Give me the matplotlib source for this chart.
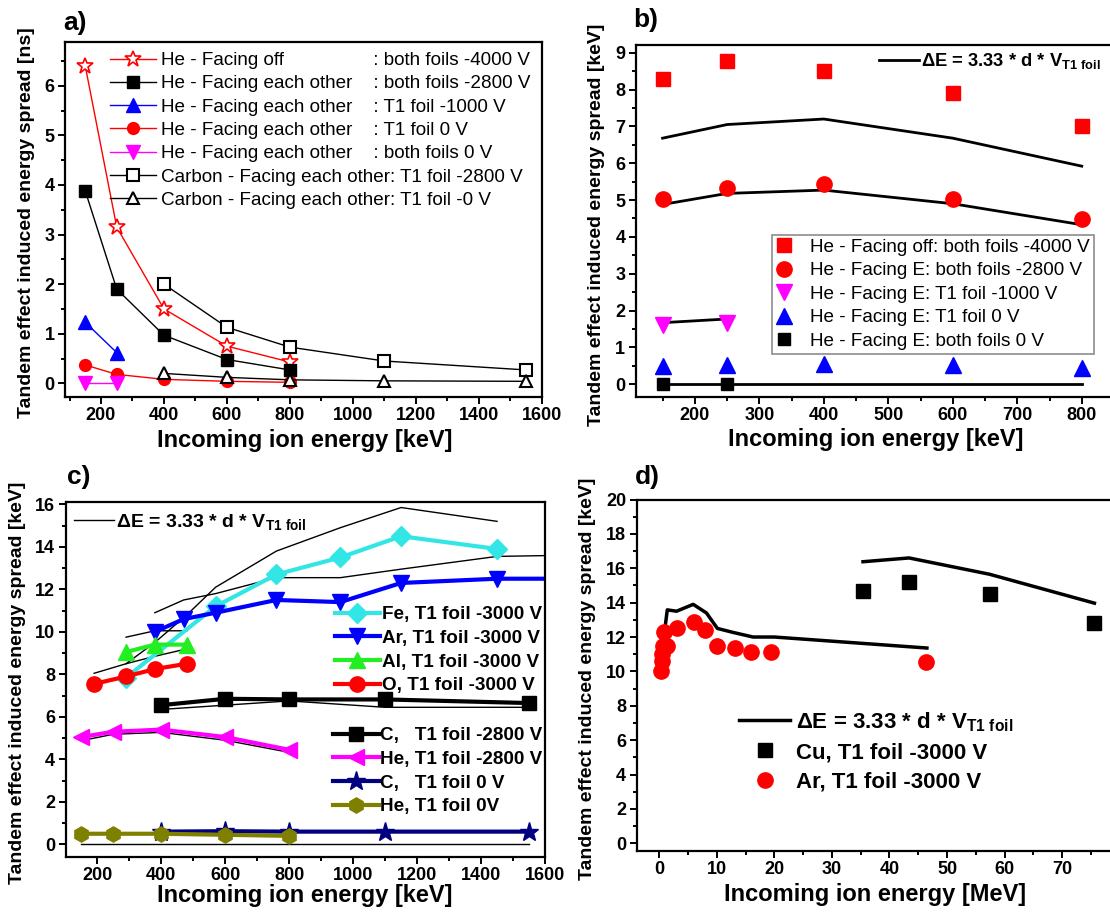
import numpy as np
import matplotlib.pyplot as plt
from matplotlib.ticker import MultipleLocator
from matplotlib.font_manager import FontProperties

plt.rcParams['font.family'] = ['Liberation Sans', 'DejaVu Sans']
plt.rcParams['font.weight'] = 'bold'
plt.rcParams['axes.labelweight'] = 'bold'
plt.rcParams['mathtext.fontset'] = 'custom'
plt.rcParams['mathtext.rm'] = 'Liberation Sans:bold'
plt.rcParams['mathtext.it'] = 'Liberation Sans:bold'
plt.rcParams['mathtext.bf'] = 'Liberation Sans:bold'

# ---- a) time spread [ns]
a_he_x = [150, 250, 400, 600, 800]
a_he_x_short = [150, 250]
a_c_x = [400, 600, 800, 1100, 1550]
a_off_4000 = [6.4, 3.15, 1.5, 0.75, 0.43]
a_both_2800 = [3.88, 1.9, 0.97, 0.48, 0.27]
a_t1_1000 = [1.23, 0.62]
a_t1_0 = [0.37, 0.18, 0.08, 0.04, 0.02]
a_both_0 = [0.0, 0.0]
a_c_2800 = [2.0, 1.13, 0.73, 0.45, 0.27]
a_c_0 = [0.2, 0.12, 0.07, 0.05, 0.04]

# ---- b) He energy spread [keV]
b_x = [150, 250, 400, 600, 800]
b_x_short = [150, 250]
b_off_4000 = [8.3, 8.78, 8.5, 7.9, 7.02]
b_both_2800 = [5.03, 5.32, 5.43, 5.03, 4.48]
b_t1_1000 = [1.6, 1.65]
b_t1_0 = [0.5, 0.52, 0.55, 0.52, 0.45]
b_both_0 = [0.0, 0.0]
b_calc_4000 = [6.68, 7.05, 7.2, 6.68, 5.92]
b_calc_2800 = [4.88, 5.18, 5.27, 4.9, 4.33]
b_calc_1000 = [1.67, 1.77]
b_calc_0 = [0.0, 0.0, 0.0, 0.0, 0.0]

# ---- c) several ions [keV]
c_fe_x = [290, 570, 760, 960, 1150, 1450]
c_fe = [7.85, 11.2, 12.7, 13.5, 14.5, 13.9]
c_ar_x = [380, 470, 570, 760, 960, 1150, 1450, 1650]
c_ar = [10.0, 10.6, 10.9, 11.5, 11.4, 12.3, 12.5, 12.5]
c_al_x = [290, 380, 480]
c_al = [9.05, 9.4, 9.4]
c_o_x = [190, 290, 380, 480]
c_o = [7.55, 7.9, 8.25, 8.5]
c_c_x = [400, 600, 800, 1100, 1550]
c_c_2800 = [6.55, 6.85, 6.82, 6.82, 6.65]
c_c_0 = [0.6, 0.62, 0.6, 0.6, 0.6]
c_he_x = [150, 250, 400, 600, 800]
c_he_2800 = [5.05, 5.3, 5.4, 5.05, 4.45]
c_he_0 = [0.5, 0.5, 0.5, 0.45, 0.4]
c_calc_fe_x = [290, 380, 480, 570, 760, 960, 1150, 1450]
c_calc_fe = [8.5, 9.5, 10.8, 12.1, 13.8, 14.9, 15.85, 15.2]
c_calc_ar = [10.9, 11.5, 11.8, 12.55, 12.55, 12.95, 13.55, 13.6]
c_calc_al = [9.75, 10.05, 10.05]
c_calc_o = [8.05, 8.5, 8.85, 9.2]
c_calc_c = [6.35, 6.55, 6.75, 6.45, 6.45]
c_calc_he = [4.88, 5.18, 5.27, 4.9, 4.33]
c_calc_0_x = [150, 1550]
c_calc_0 = [0.0, 0.0]

# ---- d) high energy [MeV]
d_cu_x = [35.4, 43.4, 57.4, 75.6]
d_cu = [14.7, 15.2, 14.5, 12.8]
d_ar_x = [0.3, 0.4, 0.5, 0.6, 0.9, 1.4, 3.1, 6.0, 8.0, 10.0, 13.1, 16.0, 19.5, 46.3]
d_ar = [10.0, 10.6, 11.0, 11.5, 12.3, 11.45, 12.5, 12.85, 12.4, 11.5, 11.35, 11.1, 11.1, 10.55]
d_calc_ar_x = [0.4, 1.4, 3.0, 5.9, 8.2, 10.1, 12.8, 16.3, 20.0, 46.5]
d_calc_ar = [10.97, 13.58, 13.5, 13.9, 13.4, 12.5, 12.27, 12.0, 12.0, 11.36]
d_calc_cu = [16.38, 16.6, 15.65, 13.97]

W, H = 1110, 917
fig = plt.figure(figsize=(W / 100, H / 100), dpi=100)
tick_font = FontProperties(family='Liberation Sans', weight='bold', size=13)


def box(l, r, t, b):
    return [l / W, 1 - b / H, (r - l) / W, (b - t) / H]


def style(ax, xmaj, xmin, ymaj, ymin):
    for s in ax.spines.values():
        s.set_linewidth(1.6)
    x0, x1 = ax.get_xlim()
    y0, y1 = ax.get_ylim()
    xt = np.arange(np.ceil(x0 / xmaj) * xmaj, x1 + 1e-6, xmaj) + 0.0
    yt = np.arange(np.ceil(y0 / ymaj) * ymaj, y1 + 1e-6, ymaj) + 0.0
    ax.set_xticks(xt)
    ax.set_xticklabels([f'{v:g}' for v in xt], fontproperties=tick_font)
    ax.set_yticks(yt)
    ax.set_yticklabels([f'{v:g}' for v in yt], fontproperties=tick_font)
    ax.set_xlim(x0, x1)
    ax.set_ylim(y0, y1)
    ax.xaxis.set_minor_locator(MultipleLocator(xmin))
    ax.yaxis.set_minor_locator(MultipleLocator(ymin))
    ax.tick_params(which='both', direction='out', top=False, right=False,
                   width=1.4, pad=2.5)
    ax.tick_params(which='major', length=5)
    ax.tick_params(which='minor', length=3)


def fpos(x, y):
    return (x / W, 1 - y / H)


dE = r'$\Delta$E = 3.33 * d * V$_{\mathregular{T1\ foil}}$'

# ================= a)
ax = fig.add_axes(box(64.8, 541.6, 41.7, 396.7))
ax.plot(a_he_x, a_off_4000, '-', color='red', lw=1, marker='*', ms=12,
        mfc='white', mec='red', mew=1.2,
        label='He - Facing off                 : both foils -4000 V')
ax.plot(a_he_x, a_both_2800, '-', color='black', lw=1, marker='s', ms=8,
        label='He - Facing each other    : both foils -2800 V')
ax.plot(a_he_x_short, a_t1_1000, '-', color='blue', lw=1, marker='^', ms=9.5,
        label='He - Facing each other    : T1 foil -1000 V')
ax.plot(a_he_x, a_t1_0, '-', color='red', lw=1, marker='o', ms=8.5,
        label='He - Facing each other    : T1 foil 0 V')
ax.plot(a_he_x_short, a_both_0, '-', color='magenta', lw=1, marker='v', ms=9.5,
        label='He - Facing each other    : both foils 0 V')
ax.plot(a_c_x, a_c_2800, '-', color='black', lw=1, marker='s', ms=8,
        mfc='white', mec='black', mew=1.5,
        label='Carbon - Facing each other: T1 foil -2800 V')
ax.plot(a_c_x, a_c_0, '-', color='black', lw=1, marker='^', ms=9,
        mfc='white', mec='black', mew=1.5,
        label='Carbon - Facing each other: T1 foil -0 V')
ax.set_xlim(85, 1600)
ax.set_ylim(-0.27, 6.89)
style(ax, 200, 100, 1, 0.5)
ax.set_xlabel('Incoming ion energy [keV]', fontsize=17)
ax.set_ylabel('Tandem effect induced energy spread [ns]', fontsize=14)
ax.xaxis.set_label_coords(0.503, -0.09)
ax.yaxis.set_label_coords(-0.0625, 0.49)
ax.legend(loc='upper left', bbox_to_anchor=fpos(109.7, 52), bbox_transform=fig.transFigure,
          frameon=False, borderaxespad=0, borderpad=0, handlelength=2.43,
          handletextpad=0.27, labelspacing=0.32, numpoints=1,
          prop={'size': 13.6, 'weight': 'normal'})
fig.text(63.3 / W, 1 - 23 / H, 'a)', fontsize=19, va='center', ha='left')

# ================= b)
ax = fig.add_axes(box(635.7, 1114, 45, 396.7))
ax.plot(b_x, b_calc_4000, '-', color='black', lw=2, label=dE)
ax.plot(b_x, b_calc_2800, '-', color='black', lw=2)
ax.plot(b_x_short, b_calc_1000, '-', color='black', lw=2)
ax.plot(b_x, b_calc_0, '-', color='black', lw=2)
h1, = ax.plot(b_x, b_off_4000, 's', color='red', ms=10,
              label='He - Facing off: both foils -4000 V')
h2, = ax.plot(b_x, b_both_2800, 'o', color='red', ms=11,
              label='He - Facing E: both foils -2800 V')
h3, = ax.plot(b_x_short, b_t1_1000, 'v', color='magenta', ms=11,
              label='He - Facing E: T1 foil -1000 V')
h4, = ax.plot(b_x, b_t1_0, '^', color='blue', ms=11,
              label='He - Facing E: T1 foil 0 V')
h5, = ax.plot(b_x_short, b_both_0, 's', color='black', ms=9,
              label='He - Facing E: both foils 0 V')
ax.set_xlim(108.3, 850)
ax.set_ylim(-0.34, 9.21)
style(ax, 100, 50, 1, 0.5)
ax.set_xlabel('Incoming ion energy [keV]', fontsize=17)
ax.set_ylabel('Tandem effect induced energy spread [keV]', fontsize=14)
ax.xaxis.set_label_coords(0.501, -0.09)
ax.yaxis.set_label_coords(-0.064, 0.49)
leg1 = ax.legend(handles=[ax.lines[0]], loc='upper left', bbox_to_anchor=fpos(879, 51),
                 bbox_transform=fig.transFigure, frameon=False, borderaxespad=0,
                 borderpad=0, handlelength=2.2, handletextpad=0.1,
                 prop={'size': 13.2, 'weight': 'bold'})
ax.add_artist(leg1)
leg = ax.legend(handles=[h1, h2, h3, h4, h5], loc='upper left',
                bbox_to_anchor=fpos(771.6, 235), bbox_transform=fig.transFigure,
                borderaxespad=0, borderpad=0.2, handlelength=0.9, handletextpad=0.95,
                labelspacing=0.33, numpoints=1, fancybox=False, framealpha=1,
                edgecolor='#8c8c8c', prop={'size': 13.6, 'weight': 'normal'})
leg.get_frame().set_linewidth(1.2)
fig.text(633.6 / W, 1 - 20 / H, 'b)', fontsize=19, va='center', ha='left')

# ================= c)
ax = fig.add_axes(box(65.5, 545, 502, 856.7))
th = ax.plot(c_calc_fe_x, c_calc_fe, '-', color='black', lw=1, label=dE)[0]
ax.plot(c_ar_x, c_calc_ar, '-', color='black', lw=1)
ax.plot(c_al_x, c_calc_al, '-', color='black', lw=1)
ax.plot(c_o_x, c_calc_o, '-', color='black', lw=1)
ax.plot(c_c_x, c_calc_c, '-', color='black', lw=1)
ax.plot(c_he_x, c_calc_he, '-', color='black', lw=1)
ax.plot(c_calc_0_x, c_calc_0, '-', color='black', lw=1)
g1 = []
g1 += ax.plot(c_fe_x, c_fe, '-', color='#33e6e6', lw=3, marker='D', ms=10,
              label='Fe, T1 foil -3000 V')
g1 += ax.plot(c_ar_x, c_ar, '-', color='#0000ff', lw=3, marker='v', ms=12,
              label='Ar, T1 foil -3000 V')
g1 += ax.plot(c_al_x, c_al, '-', color='#22ee22', lw=3, marker='^', ms=12,
              label='Al, T1 foil -3000 V')
g1 += ax.plot(c_o_x, c_o, '-', color='#ff0000', lw=3, marker='o', ms=11,
              label='O, T1 foil -3000 V')
g2 = []
g2 += ax.plot(c_c_x, c_c_2800, '-', color='black', lw=3, marker='s', ms=10,
              label='C,   T1 foil -2800 V')
g2 += ax.plot(c_he_x, c_he_2800, '-', color='#ff00ff', lw=3, marker='<', ms=12,
              label='He, T1 foil -2800 V')
g2 += ax.plot(c_c_x, c_c_0, '-', color='#000080', lw=3, marker='*', ms=14,
              label='C,   T1 foil 0 V')
g2 += ax.plot(c_he_x, c_he_0, '-', color='#808000', lw=3, marker='h', ms=11,
              label='He, T1 foil 0V')
ax.set_xlim(100.6, 1600)
ax.set_ylim(-0.58, 16.11)
style(ax, 200, 100, 2, 1)
ax.set_xlabel('Incoming ion energy [keV]', fontsize=17)
ax.set_ylabel('Tandem effect induced energy spread [keV]', fontsize=14)
ax.xaxis.set_label_coords(0.498, -0.078)
ax.yaxis.set_label_coords(-0.082, 0.49)
l0 = ax.legend(handles=[th], loc='upper left', bbox_to_anchor=fpos(74, 512),
               bbox_transform=fig.transFigure, frameon=False, borderaxespad=0,
               borderpad=0, handlelength=2.07, handletextpad=0.1,
               prop={'size': 14, 'weight': 'bold'})
ax.add_artist(l0)
l1 = ax.legend(handles=g1, loc='upper left', bbox_to_anchor=fpos(334.5, 606),
               bbox_transform=fig.transFigure, frameon=False, borderaxespad=0,
               borderpad=0, handlelength=2.43, handletextpad=0.1, labelspacing=0.34,
               numpoints=1, prop={'size': 13.6, 'weight': 'bold'})
ax.add_artist(l1)
ax.legend(handles=g2, loc='upper left', bbox_to_anchor=fpos(332.7, 727),
          bbox_transform=fig.transFigure, frameon=False, borderaxespad=0,
          borderpad=0, handlelength=2.43, handletextpad=0.1, labelspacing=0.34,
          numpoints=1, prop={'size': 13.6, 'weight': 'bold'})
fig.text(67 / W, 1 - 477 / H, 'c)', fontsize=19, va='center', ha='left')

# ================= d)
ax = fig.add_axes(box(636.5, 1114, 499.5, 850.7))
hd = ax.plot(d_calc_ar_x, d_calc_ar, '-', color='black', lw=2.5, label=dE)[0]
ax.plot(d_cu_x, d_calc_cu, '-', color='black', lw=2.5)
hc, = ax.plot(d_cu_x, d_cu, 's', color='black', ms=10, label='Cu, T1 foil -3000 V')
ha, = ax.plot(d_ar_x, d_ar, 'o', color='red', ms=11, label='Ar, T1 foil -3000 V')
ax.set_xlim(-3.95, 79)
ax.set_ylim(-0.43, 20)
style(ax, 10, 5, 2, 1)
ax.set_xlabel('Incoming ion energy [MeV]', fontsize=17)
ax.set_ylabel('Tandem effect induced energy spread [keV]', fontsize=14)
ax.xaxis.set_label_coords(0.5, -0.093)
ax.yaxis.set_label_coords(-0.085, 0.49)
ax.legend(handles=[hd, hc, ha], loc='upper left', bbox_to_anchor=fpos(739, 710),
          bbox_transform=fig.transFigure, frameon=False, borderaxespad=0,
          borderpad=0, handlelength=2.3, handletextpad=0.26, labelspacing=0.38,
          numpoints=1, prop={'size': 16, 'weight': 'bold'})
fig.text(634.6 / W, 1 - 477.5 / H, 'd)', fontsize=19, va='center', ha='left')

fig.savefig('out.png', dpi=100)
